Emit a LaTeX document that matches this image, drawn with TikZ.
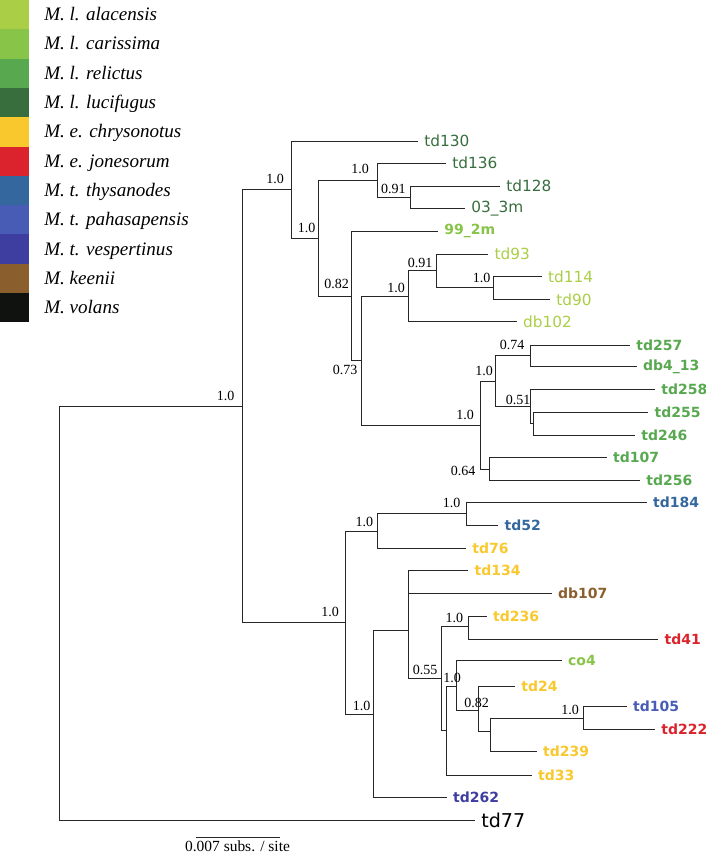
\documentclass[tikz,border=0pt]{standalone}
\usepackage{fontspec}
\setmainfont{Liberation Serif}
\newfontfamily\leaffont{DejaVu Sans}
\definecolor{calac}{RGB}{170,206,70}
\definecolor{ccaris}{RGB}{136,196,72}
\definecolor{crelic}{RGB}{88,168,80}
\definecolor{clucif}{RGB}{56,110,62}
\definecolor{cchrys}{RGB}{249,200,45}
\definecolor{cjones}{RGB}{218,35,45}
\definecolor{cthys}{RGB}{52,103,158}
\definecolor{cpaha}{RGB}{72,92,182}
\definecolor{cvesp}{RGB}{62,62,160}
\definecolor{ckeen}{RGB}{139,95,45}
\definecolor{cvol}{RGB}{15,18,15}
\begin{document}
\begin{tikzpicture}[x=0.75pt,y=-0.75pt,
  edge/.style={line width=0.75pt, draw=black!85},
  leafr/.style={anchor=west, inner xsep=4.6pt, inner ysep=0pt, font=\leaffont\fontsize{11.5}{13}\selectfont},
  leafb/.style={anchor=west, inner xsep=4.6pt, inner ysep=0pt, font=\leaffont\bfseries\fontsize{10.5}{13}\selectfont},
  bs/.style={inner sep=0pt, font=\fontsize{10.5}{12}\selectfont},
  legtxt/.style={anchor=base west, inner sep=0pt, font=\itshape\fontsize{14.3}{16}\selectfont}]
\useasboundingbox (0,0) rectangle (706,853);

% legend
\foreach \c/\t [count=\i from 0] in {calac/{M. l. alacensis}, ccaris/{M. l. carissima}, crelic/{M. l. relictus}, clucif/{M. l. lucifugus}, cchrys/{M. e. chrysonotus}, cjones/{M. e. jonesorum}, cthys/{M. t. thysanodes}, cpaha/{M. t. pahasapensis}, cvesp/{M. t. vespertinus}, ckeen/{M. keenii}, cvol/{M. volans}} {
  \fill[\c] (0,{29.3*\i}) rectangle (29.3,{29.3*\i+29.3});
  \node[legtxt] (leg\i) at (44,{29.3*\i+20.6}) {\t};
}

% internal nodes
\coordinate (R) at (59.3,613);
\coordinate (U) at (242,406);
\coordinate (A) at (291.7,189.3);
\coordinate (B) at (318.5,238);
\coordinate (C) at (377,180);
\coordinate (E) at (410,197);
\coordinate (D) at (351,296);
\coordinate (F) at (361.7,360);
\coordinate (G) at (408.3,296.5);
\coordinate (I) at (436.7,270.7);
\coordinate (J) at (493.3,287.7);
\coordinate (H) at (480,425);
\coordinate (K) at (495.7,381.7);
\coordinate (N) at (530,355);
\coordinate (O) at (530,406.7);
\coordinate (P) at (533.3,423.3);
\coordinate (M) at (489.3,469.3);
\coordinate (L) at (345.7,622.7);
\coordinate (Q) at (377.3,531.7);
\coordinate (T) at (466,513.3);
\coordinate (S) at (373.3,714);
\coordinate (V) at (408.3,630);
\coordinate (W) at (441,678.3);
\coordinate (X) at (468.3,626.7);
\coordinate (Y) at (446.3,730);
\coordinate (Z) at (456.7,686);
\coordinate (AA) at (478.3,710);
\coordinate (AB) at (490,731.7);
\coordinate (AC) at (583.3,718.3);

% leaves
\node[leafr, text=clucif] (l130) at (418,141) {td130};
\node[leafr, text=clucif] (l136) at (446,163) {td136};
\node[leafr, text=clucif] (l128) at (500,186) {td128};
\node[leafr, text=clucif] (l033) at (465,208.3) {03\_3m};
\node[leafb, text=ccaris] (l992) at (438,231) {99\_2m};
\node[leafr, text=calac] (l93) at (488.3,254) {td93};
\node[leafr, text=calac] (l114) at (541.7,276.7) {td114};
\node[leafr, text=calac] (l90) at (550,299.3) {td90};
\node[leafr, text=calac] (ldb102) at (516.7,321.7) {db102};
\node[leafb, text=crelic] (l257) at (630,345) {td257};
\node[leafb, text=crelic] (ldb413) at (636.7,366.7) {db4\_13};
\node[leafb, text=crelic] (l258) at (655,389.3) {td258};
\node[leafb, text=crelic] (l255) at (648.3,412.7) {td255};
\node[leafb, text=crelic] (l246) at (635,435) {td246};
\node[leafb, text=crelic] (l107) at (606.7,457.7) {td107};
\node[leafb, text=crelic] (l256) at (640,480) {td256};
\node[leafb, text=cthys] (l184) at (646.7,502.7) {td184};
\node[leafb, text=cthys] (l52) at (498.3,525) {td52};
\node[leafb, text=cchrys] (l76) at (466,548.3) {td76};
\node[leafb, text=cchrys] (l134) at (468.3,570) {td134};
\node[leafb, text=ckeen] (ldb107) at (551.7,593.3) {db107};
\node[leafb, text=cchrys] (l236) at (486.7,616) {td236};
\node[leafb, text=cjones] (l41) at (658.3,639) {td41};
\node[leafb, text=ccaris] (lco4) at (561.7,660.7) {co4};
\node[leafb, text=cchrys] (l24) at (515,686) {td24};
\node[leafb, text=cpaha] (l105) at (626.7,706.7) {td105};
\node[leafb, text=cjones] (l222) at (655,729.3) {td222};
\node[leafb, text=cchrys] (l239) at (536.7,751.7) {td239};
\node[leafb, text=cchrys] (l33) at (531.7,775) {td33};
\node[leafb, text=cvesp] (l262) at (446.7,797.5) {td262};
\node[leafr, text=black, font=\leaffont\fontsize{14.3}{16}\selectfont] (l77) at (475,820) {td77};

% edges (one path per parent so shared verticals are stroked once)
\draw[edge] (R) |- (U) (R) |- (l77.west);
\draw[edge] (U) |- (A) (U) |- (L);
\draw[edge] (A) |- (l130.west) (A) |- (B);
\draw[edge] (B) |- (C) (B) |- (D);
\draw[edge] (C) |- (l136.west) (C) |- (E);
\draw[edge] (E) |- (l128.west) (E) |- (l033.west);
\draw[edge] (D) |- (l992.west) (D) |- (F);
\draw[edge] (F) |- (G) (F) |- (H);
\draw[edge] (G) |- (I) (G) |- (ldb102.west);
\draw[edge] (I) |- (l93.west) (I) |- (J);
\draw[edge] (J) |- (l114.west) (J) |- (l90.west);
\draw[edge] (H) |- (K) (H) |- (M);
\draw[edge] (K) |- (N) (K) |- (O);
\draw[edge] (N) |- (l257.west) (N) |- (ldb413.west);
\draw[edge] (O) |- (l258.west) (O) |- (P);
\draw[edge] (P) |- (l255.west) (P) |- (l246.west);
\draw[edge] (M) |- (l107.west) (M) |- (l256.west);
\draw[edge] (L) |- (Q) (L) |- (S);
\draw[edge] (Q) |- (T) (Q) |- (l76.west);
\draw[edge] (T) |- (l184.west) (T) |- (l52.west);
\draw[edge] (S) |- (V) (S) |- (l262.west);
\draw[edge] (V) |- (l134.west) (V) |- (ldb107.west) (V) |- (W);
\draw[edge] (W) |- (X) (W) |- (Y);
\draw[edge] (X) |- (l236.west) (X) |- (l41.west);
\draw[edge] (Y) |- (Z) (Y) |- (l33.west);
\draw[edge] (Z) |- (lco4.west) (Z) |- (AA);
\draw[edge] (AA) |- (l24.west) (AA) |- (AB);
\draw[edge] (AB) |- (AC) (AB) |- (l239.west);
\draw[edge] (AC) |- (l105.west) (AC) |- (l222.west);

% support values
\node[bs] (bU) at (225.7,395.7) {1.0};
\node[bs] (bA) at (275,179) {1.0};
\node[bs] (bB) at (306.7,228.3) {1.0};
\node[bs] (bC) at (360,169.3) {1.0};
\node[bs] (bE) at (393.3,189.3) {0.91};
\node[bs] (bD) at (336.7,284.3) {0.82};
\node[bs] (bF) at (345,370) {0.73};
\node[bs] (bG) at (396,288.3) {1.0};
\node[bs] (bI) at (420,262.7) {0.91};
\node[bs] (bJ) at (481.7,277.7) {1.0};
\node[bs] (bH) at (465,415) {1.0};
\node[bs] (bK) at (484,370.7) {1.0};
\node[bs] (bN) at (512,345) {0.74};
\node[bs] (bO) at (518,400) {0.51};
\node[bs] (bM) at (463,471) {0.64};
\node[bs] (bL) at (330,611.7) {1.0};
\node[bs] (bQ) at (364.3,521.7) {1.0};
\node[bs] (bT) at (451.7,503.3) {1.0};
\node[bs] (bS) at (361.7,705.7) {1.0};
\node[bs] (bW) at (425,670) {0.55};
\node[bs] (bX) at (454.3,618.3) {1.0};
\node[bs] (bZ) at (452,677.5) {1.0};
\node[bs] (bAA) at (476.5,702.7) {0.82};
\node[bs] (bAC) at (570,710) {1.0};

% scale bar
\coordinate (sb1) at (196,837.3);
\coordinate (sb2) at (280,837.3);
\draw[edge] (sb1) -- (sb2);
\node[anchor=base, inner sep=0pt, font=\fontsize{11.6}{13}\selectfont] (sbt) at (237.5,851.5) {0.007 subs. / site};
\end{tikzpicture}
\end{document}
